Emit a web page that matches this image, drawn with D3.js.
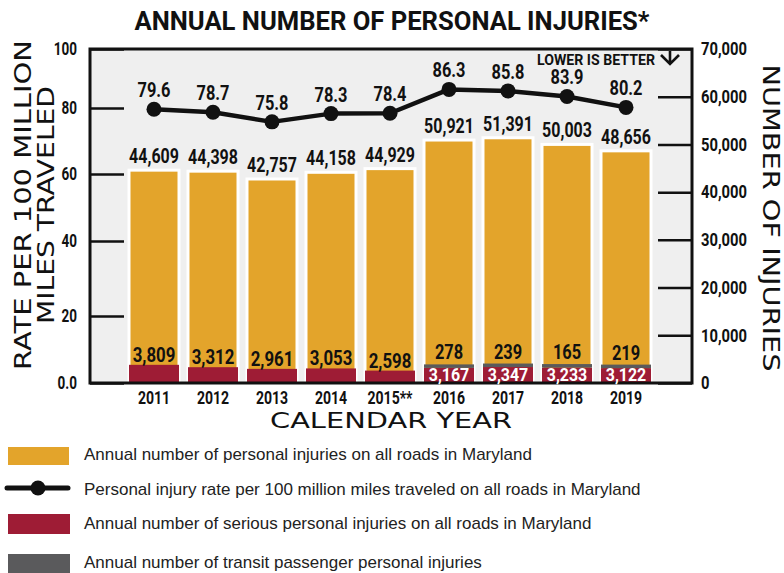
<!DOCTYPE html>
<html>
<head>
<meta charset="utf-8">
<script src="https://cdn.jsdelivr.net/npm/d3@7"></script>
<style>
  html, body { margin: 0; padding: 0; background: #ffffff; }
  svg { display: block; }
  .cond { font-family: Roboto, "Liberation Sans", sans-serif; font-weight: bold; }
  .wide { font-family: "DejaVu Sans", "Liberation Sans", sans-serif; }
  .legend { font-family: "Liberation Sans", "Noto Sans", sans-serif; }
</style>
</head>
<body>
<svg id="chart" width="784" height="573"></svg>
<script>
// Calendar years and yearly values
const years = ["2011", "2012", "2013", "2014", "2015**", "2016", "2017", "2018", "2019"];
const totalInjuries = [44609, 44398, 42757, 44158, 44929, 50921, 51391, 50003, 48656];
const seriousInjuries = [3809, 3312, 2961, 3053, 2598, 3167, 3347, 3233, 3122];
const transitInjuries = [null, null, null, null, null, 278, 239, 165, 219];
const injuryRate = [79.6, 78.7, 75.8, 78.3, 78.4, 86.3, 85.8, 83.9, 80.2];

// Axis ticks
const rateTicks = [0, 20, 40, 60, 80, 100];
const countTicks = [0, 10000, 20000, 30000, 40000, 50000, 60000, 70000];

const legendLabels = [
  "Annual number of personal injuries on all roads in Maryland",
  "Personal injury rate per 100 million miles traveled on all roads in Maryland",
  "Annual number of serious personal injuries on all roads in Maryland",
  "Annual number of transit passenger personal injuries"
];

const colors = { total: "#E3A42B", serious: "#9E1C35", transit: "#5A5A5C", plotBg: "#EFEFEF" };

// Narrow a text run horizontally (condensed lettering) by factor k
function squeeze(sel, k) {
  sel.each(function () {
    const w = this.getComputedTextLength();
    d3.select(this).attr("textLength", w * k).attr("lengthAdjust", "spacingAndGlyphs");
  });
}
// Fit a text run to an exact width
function fitWidth(sel, w) {
  sel.attr("textLength", w).attr("lengthAdjust", "spacingAndGlyphs");
}

const svg = d3.select("#chart");
const plot = { left: 90, right: 692, top: 49, bottom: 383 };

// Scales
const x = d3.scaleBand().domain(years).range([129, 651]).paddingInner(0.1525).paddingOuter(0);
const yCount = d3.scaleLinear().domain([0, 70000]).range([plot.bottom, plot.top]);
const yRate = d3.scaleLinear().domain(rateTicks).range([383, 316, 241, 174, 108, 49]);

// Title
svg.append("text").attr("class", "cond")
  .attr("x", 392).attr("y", 30).attr("text-anchor", "middle")
  .attr("font-size", 26).attr("fill", "#111")
  .text("ANNUAL NUMBER OF PERSONAL INJURIES*")
  .call(fitWidth, 515);

// Plot background
svg.append("rect")
  .attr("x", plot.left).attr("y", plot.top)
  .attr("width", plot.right - plot.left).attr("height", plot.bottom - plot.top)
  .attr("fill", colors.plotBg);

// Left axis (rate)
const leftAxis = svg.append("g").attr("transform", `translate(${plot.left},0)`)
  .call(d3.axisLeft(yRate).tickValues(rateTicks).tickSizeInner(-34).tickSizeOuter(0).tickPadding(13)
    .tickFormat(d => d === 0 ? "0.0" : d3.format("d")(d)));
leftAxis.select(".domain").remove();
leftAxis.selectAll("line").attr("stroke", "#111").attr("stroke-width", 2.5);
leftAxis.selectAll("text").attr("class", "cond").attr("font-size", 18).attr("fill", "#111").call(squeeze, 0.75);

// Right axis (count)
const rightAxis = svg.append("g").attr("transform", `translate(${plot.right},0)`)
  .call(d3.axisRight(yCount).tickValues(countTicks).tickSizeInner(-34).tickSizeOuter(0).tickPadding(9)
    .tickFormat(d3.format(",")));
rightAxis.select(".domain").remove();
rightAxis.selectAll("line").attr("stroke", "#111").attr("stroke-width", 2.5);
rightAxis.selectAll("text").attr("class", "cond").attr("font-size", 18).attr("fill", "#111").call(squeeze, 0.82);

const rows = years.map((y, i) => ({
  year: y, total: totalInjuries[i], serious: seriousInjuries[i],
  transit: transitInjuries[i], rate: injuryRate[i]
}));

// Bars: total, then serious and transit stacked from the baseline
const bars = svg.append("g");
bars.selectAll("rect.total").data(rows).join("rect")
  .attr("class", "total")
  .attr("x", d => x(d.year)).attr("width", x.bandwidth())
  .attr("y", d => yCount(d.total)).attr("height", d => yCount(0) - yCount(d.total))
  .attr("fill", colors.total).attr("stroke", "#ffffff").attr("stroke-width", 3);

bars.selectAll("rect.serious").data(rows).join("rect")
  .attr("class", "serious")
  .attr("x", d => x(d.year)).attr("width", x.bandwidth())
  .attr("y", d => yCount(d.serious)).attr("height", d => yCount(0) - yCount(d.serious))
  .attr("fill", colors.serious);

const transitH = d => Math.max(3.5, yCount(0) - yCount(d.transit));
bars.selectAll("rect.transit").data(rows.filter(d => d.transit != null)).join("rect")
  .attr("class", "transit")
  .attr("x", d => x(d.year)).attr("width", x.bandwidth())
  .attr("y", d => yCount(d.serious) - transitH(d))
  .attr("height", transitH)
  .attr("fill", colors.transit);

// Frame around plot area
svg.append("rect")
  .attr("x", plot.left).attr("y", plot.top)
  .attr("width", plot.right - plot.left).attr("height", plot.bottom - plot.top)
  .attr("fill", "none").attr("stroke", "#111").attr("stroke-width", 3);

const fmt = d3.format(",");
const labels = svg.append("g").attr("class", "cond").attr("text-anchor", "middle");
const cx = d => x(d.year) + x.bandwidth() / 2;

// Total labels above bars
labels.selectAll("text.tot").data(rows).join("text")
  .attr("class", "tot")
  .attr("x", cx)
  .attr("y", d => yCount(d.total) - 7)
  .attr("font-size", 20).attr("fill", "#111")
  .text(d => fmt(d.total))
  .call(squeeze, 0.8);

// Serious injury labels: above the red segment when no transit data, inside it otherwise
labels.selectAll("text.ser").data(rows).join("text")
  .attr("class", "ser")
  .attr("x", cx)
  .attr("y", d => d.transit == null ? yCount(d.serious) - 3 : yCount(0) - 2)
  .attr("font-size", d => d.transit == null ? 20 : 19)
  .attr("fill", d => d.transit == null ? "#111" : "#ffffff")
  .text(d => fmt(d.serious))
  .call(squeeze, 0.84);

// Transit labels above the gray segment
labels.selectAll("text.tra").data(rows.filter(d => d.transit != null)).join("text")
  .attr("class", "tra")
  .attr("x", cx)
  .attr("y", d => yCount(d.serious) - transitH(d) - 5)
  .attr("font-size", 20).attr("fill", "#111")
  .text(d => fmt(d.transit))
  .call(squeeze, 0.82);

// Rate line
const line = d3.line().x(cx).y(d => yRate(d.rate));
svg.append("path").datum(rows).attr("d", line)
  .attr("fill", "none").attr("stroke", "#111").attr("stroke-width", 4.5).attr("stroke-linejoin", "round");
svg.append("g").selectAll("circle").data(rows).join("circle")
  .attr("cx", cx).attr("cy", d => yRate(d.rate)).attr("r", 7.5)
  .attr("fill", "#111");
labels.selectAll("text.rate").data(rows).join("text")
  .attr("class", "rate")
  .attr("x", cx)
  .attr("y", d => yRate(d.rate) - 12)
  .attr("font-size", 20).attr("fill", "#111")
  .text(d => d.rate.toFixed(1))
  .call(squeeze, 0.82);

// Note in top right corner
svg.append("text").attr("class", "cond")
  .attr("x", 537).attr("y", 65)
  .attr("font-size", 15.5).attr("fill", "#111")
  .text("LOWER IS BETTER")
  .call(fitWidth, 118);
svg.append("path")
  .attr("d", "M661,55 L670,64 L679,55 M670,64 L670,51")
  .attr("fill", "none").attr("stroke", "#111").attr("stroke-width", 2.6);

// Year labels
svg.append("g").attr("class", "cond").selectAll("text").data(rows).join("text")
  .attr("x", cx).attr("y", 404)
  .attr("text-anchor", "middle").attr("font-size", 18).attr("fill", "#111")
  .text(d => d.year)
  .call(squeeze, 0.78);

// Axis titles
svg.append("text").attr("class", "wide")
  .attr("x", 391).attr("y", 428).attr("text-anchor", "middle")
  .attr("font-size", 21).attr("fill", "#111")
  .text("CALENDAR YEAR")
  .call(fitWidth, 242);

const leftTitle = svg.append("text").attr("class", "wide")
  .attr("transform", "translate(0,205) rotate(-90)")
  .attr("text-anchor", "middle").attr("font-size", 23).attr("fill", "#111");
leftTitle.append("tspan").attr("x", 0).attr("y", 31).text("RATE PER 100 MILLION").call(fitWidth, 330);
leftTitle.append("tspan").attr("x", 0).attr("y", 54).text("MILES TRAVELED").call(fitWidth, 238);

svg.append("text").attr("class", "wide")
  .attr("transform", "translate(763,218) rotate(90)")
  .attr("text-anchor", "middle").attr("font-size", 23).attr("fill", "#111")
  .text("NUMBER OF INJURIES")
  .call(fitWidth, 307);

// Legend
const legend = svg.append("g");
const legendY = [455, 490, 524, 563];
legend.append("rect").attr("x", 8).attr("y", 447).attr("width", 61).attr("height", 18).attr("fill", colors.total);
legend.append("line").attr("x1", 7).attr("x2", 68).attr("y1", 488).attr("y2", 488)
  .attr("stroke", "#111").attr("stroke-width", 5).attr("stroke-linecap", "round");
legend.append("circle").attr("cx", 38).attr("cy", 488).attr("r", 7.5).attr("fill", "#111");
legend.append("rect").attr("x", 8).attr("y", 514).attr("width", 62).attr("height", 20).attr("fill", colors.serious);
legend.append("rect").attr("x", 8).attr("y", 554).attr("width", 62).attr("height", 19).attr("fill", colors.transit);
legend.selectAll("text").data(legendLabels).join("text").attr("class", "legend")
  .attr("x", 84).attr("y", (d, i) => legendY[i] + 5)
  .attr("font-size", 17).attr("fill", "#222")
  .text(d => d);
</script>
</body>
</html>
